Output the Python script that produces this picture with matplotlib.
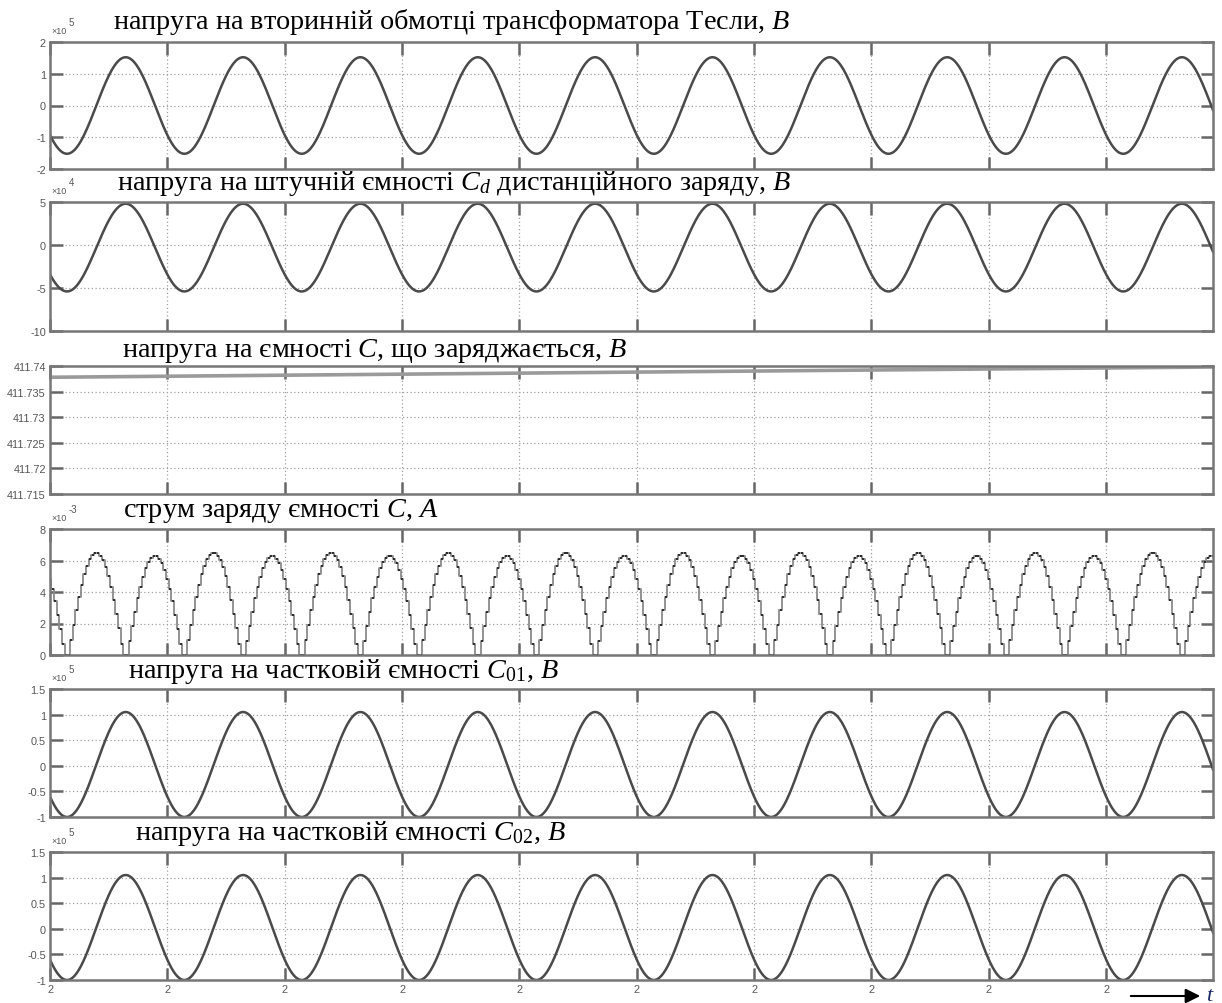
import numpy as np
import matplotlib
matplotlib.use("Agg")
import matplotlib.pyplot as plt

plt.rcParams["mathtext.fontset"] = "custom"
plt.rcParams["mathtext.rm"] = "Liberation Serif"
plt.rcParams["mathtext.it"] = "Liberation Serif:italic"
plt.rcParams["font.family"] = ["Liberation Sans", "DejaVu Sans"]

# ---- data --------------------------------------------------------------
# time is measured in periods of the high-voltage oscillation
t_end = 9.91
x_ticks = [0, 1, 2, 3, 4, 5, 6, 7, 8, 9]
x_tick_labels = ["2", "2", "2", "2", "2", "2", "2", "2", "2", "2"]

titles = [
    "напруга на вторинній обмотці трансформатора Тесли, $В$",
    "напруга на штучній ємності $C_d$ дистанційного заряду, $В$",
    "напруга на ємності $C$, що заряджається, $В$",
    "струм заряду ємності $C$, $А$",
    "напруга на частковій ємності $C_{\\mathit{01}}$, $В$",
    "напруга на частковій ємності $C_{\\mathit{02}}$, $В$",
]

# sinusoidal voltages: crest and trough values (in the axis multiplier units)
v_secondary = {"peak": 1.52, "trough": -1.52}     # x1e5
v_cd = {"peak": 4.8, "trough": -5.4}              # x1e4
v_c01 = {"peak": 1.05, "trough": -1.0}            # x1e5
v_c02 = {"peak": 1.05, "trough": -1.0}            # x1e5
trough_phase = 0.145        # first voltage minimum, in periods

# capacitor C voltage at start and end of the window
cap_t = [0.0, 9.91]
cap_v = [411.7378, 411.7398]

# charge current: crest of every half-wave (x1e-3), first one is partial
current_peaks = [6.3, 6.5, 6.3, 6.5, 6.3, 6.5, 6.3, 6.5, 6.3, 6.5, 6.3,
                 6.5, 6.3, 6.5, 6.3, 6.5, 6.3, 6.5, 6.3, 6.5, 6.3, 6.5]
current_dead_band = 0.1     # fraction of the half-wave where diodes are off
current_step = 1.0 / 44     # solver output step, periods

# axis settings
y_limits = [(-2, 2), (-10, 5), (411.715, 411.74), (0, 8), (-1, 1.5), (-1, 1.5)]
y_ticks = [
    [-2, -1, 0, 1, 2],
    [-10, -5, 0, 5],
    [411.715, 411.72, 411.725, 411.73, 411.735, 411.74],
    [0, 2, 4, 6, 8],
    [-1, -0.5, 0, 0.5, 1, 1.5],
    [-1, -0.5, 0, 0.5, 1, 1.5],
]
y_tick_labels = [
    ["-2", "-1", "0", "1", "2"],
    ["-10", "-5", "0", "5"],
    ["411.715", "411.72", "411.725", "411.73", "411.735", "411.74"],
    ["0", "2", "4", "6", "8"],
    ["-1", "-0.5", "0", "0.5", "1", "1.5"],
    ["-1", "-0.5", "0", "0.5", "1", "1.5"],
]
exponents = ["5", "4", None, "-3", "5", "5"]

# ---- layout (pixels of the 1222 x 1004 canvas) -------------------------
W, H = 1222, 1004
ax_left, ax_right = 50, 1213
ax_tops = [43, 203, 367, 530, 690, 853]
ax_bottoms = [170, 332, 495, 656, 818, 981]
title_x = [113, 117, 122, 123, 128, 135]
title_base = [29, 190, 357, 517, 678, 840]

LINE = "#4a4a4a"
FRAME = "#777777"
TICKC = "#555555"

fig = plt.figure(figsize=(W / 100, H / 100), dpi=100)
fig.patch.set_facecolor("white")

axes = []
for i in range(6):
    ax = fig.add_axes([ax_left / W, 1 - ax_bottoms[i] / H,
                       (ax_right - ax_left) / W,
                       (ax_bottoms[i] - ax_tops[i]) / H])
    axes.append(ax)
    ax.set_xlim(0, t_end)
    ax.set_ylim(*y_limits[i])
    ax.set_xticks(x_ticks)
    ax.set_yticks(y_ticks[i])
    ax.set_yticklabels(y_tick_labels[i])
    if i == 5:
        ax.set_xticklabels(x_tick_labels)
    else:
        ax.set_xticklabels([])
    ax.tick_params(direction="in", length=9, width=1.8, color="#666666",
                   top=True, right=True, labelsize=7.8, labelcolor=TICKC,
                   pad=3)
    ax.grid(True, color="#a0a0a0", linestyle=(0, (1, 2)), linewidth=0.9)
    ax.set_axisbelow(True)
    for s in ax.spines.values():
        s.set_color(FRAME)
        s.set_linewidth(1.8)
    fig.text(title_x[i] / W, 1 - title_base[i] / H, titles[i],
             family="Liberation Serif", fontsize=20.3, color="black",
             ha="left", va="baseline")
    if exponents[i] is not None:
        yb = ax_tops[i] - 9
        fig.text(51 / W, 1 - yb / H, "×10", fontsize=6.5, color=TICKC,
                 ha="left", va="baseline")
        fig.text(69 / W, 1 - (yb - 8) / H, exponents[i], fontsize=7,
                 color=TICKC, ha="left", va="baseline")

t = np.linspace(0, t_end, 4000)


def voltage(p):
    mid = (p["peak"] + p["trough"]) / 2
    amp = (p["peak"] - p["trough"]) / 2
    return mid - amp * np.cos(2 * np.pi * (t - trough_phase))


axes[0].plot(t, voltage(v_secondary), color=LINE, lw=1.8)
axes[1].plot(t, voltage(v_cd), color=LINE, lw=1.8)
axes[4].plot(t, voltage(v_c01), color=LINE, lw=1.8)
axes[5].plot(t, voltage(v_c02), color=LINE, lw=1.8)

axes[2].plot(cap_t, cap_v, color="#9a9a9a", lw=2.6, solid_capstyle="butt")

# charge current sampled with the solver step, drawn as a staircase
ts = np.arange(0, t_end + current_step, current_step)
phase = (ts - trough_phase) * 2.0          # in half-periods
idx = np.floor(phase).astype(int) + 1      # which half-wave
idx = np.clip(idx, 0, len(current_peaks) - 1)
crest = np.array(current_peaks)[idx]
s = np.abs(np.sin(np.pi * phase))
shape = np.clip((s - current_dead_band) / (1 - current_dead_band), 0, None)
current = crest * shape
axes[3].plot(ts, current, color="#8a8a8a", lw=1.3, drawstyle="steps-mid")
axes[3].plot(ts, current, ls="none", marker="s", ms=1.8, mew=0,
             color="#2e2e2e")

# time arrow
fig.add_artist(matplotlib.patches.FancyArrowPatch(
    (1128 / W, 1 - 997 / H), (1203 / W, 1 - 997 / H),
    transform=fig.transFigure, arrowstyle="-|>", mutation_scale=22,
    color="black", lw=1.5))
fig.text(1206 / W, 1 - 1001 / H, "t", family="Liberation Serif",
         style="italic", fontsize=16, color="#1b2b66", ha="left",
         va="baseline")

fig.savefig("out.png", dpi=100)
